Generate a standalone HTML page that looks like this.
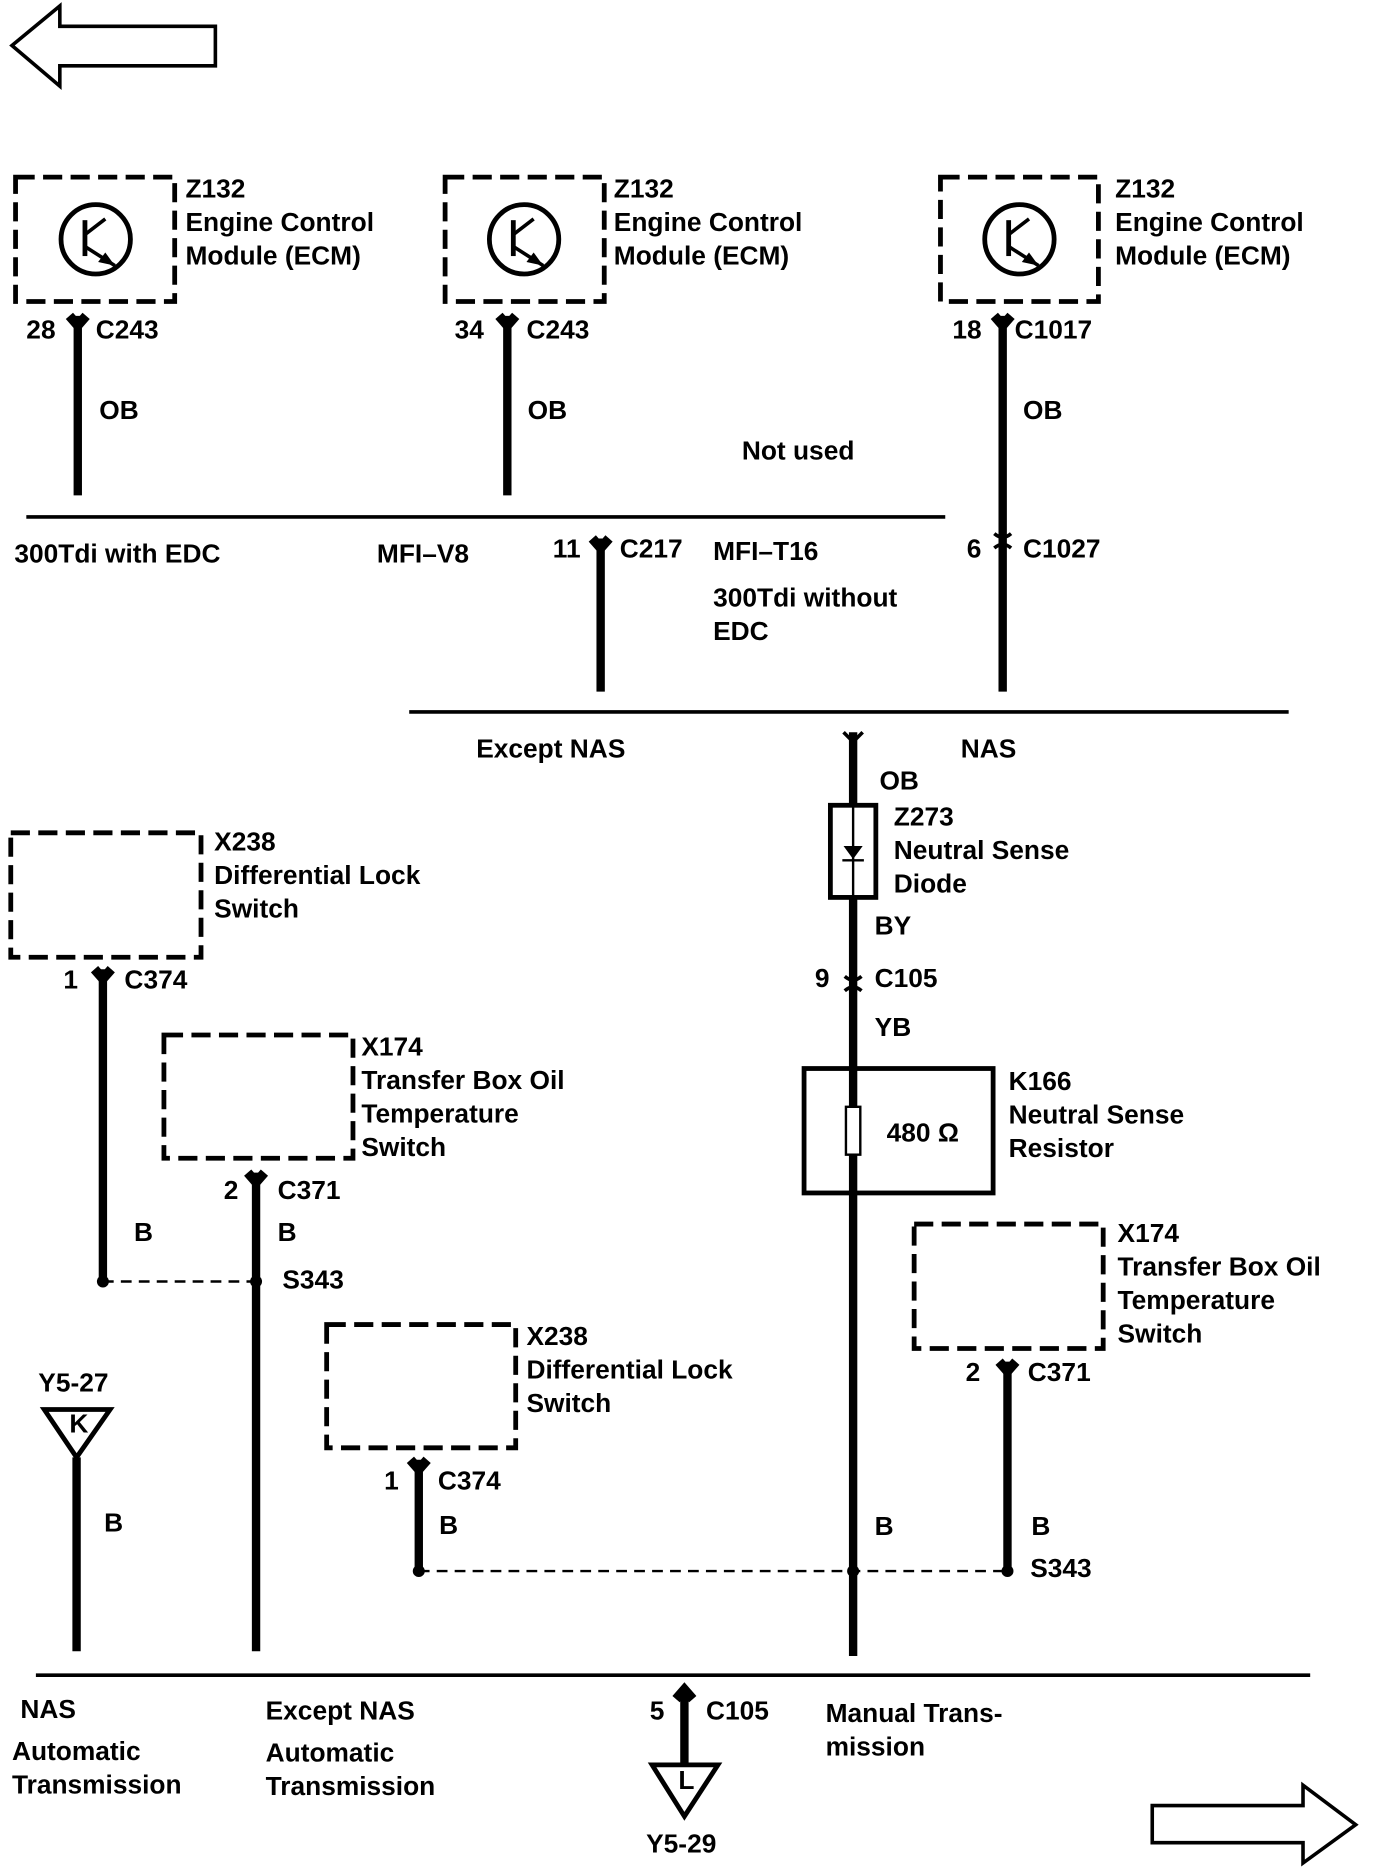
<!DOCTYPE html>
<html><head><meta charset="utf-8"><style>
html,body{margin:0;padding:0;background:#fff;}
svg{display:block;}
text{font-family:"Liberation Sans",sans-serif;font-weight:bold;font-size:22px;fill:#000;}
</style></head><body>
<svg width="1376" height="1872" viewBox="0 0 1150 1564.5" preserveAspectRatio="none" xmlns="http://www.w3.org/2000/svg">
<defs>
<g id="tr"><circle cx="0" cy="0" r="29" fill="none" stroke="#000" stroke-width="4"/>
<line x1="-9" y1="-16" x2="-9" y2="14" stroke="#000" stroke-width="4"/>
<line x1="-9" y1="-4" x2="8" y2="-17" stroke="#000" stroke-width="3"/>
<line x1="-9" y1="6" x2="16" y2="22" stroke="#000" stroke-width="3"/>
<polygon points="16,22 2,19 8,11" fill="#000"/></g>
</defs>
<g fill="none" stroke="#000" stroke-width="3">
<polygon points="10,38 50,5 50,22 180,22 180,55 50,55 50,72"/>
<polygon points="1133,1525 1089,1492 1089,1509 963,1509 963,1540 1089,1540 1089,1557"/>
</g>
<g fill="none" stroke="#000" stroke-width="4" stroke-dasharray="16,7">
<rect x="13" y="148" width="133" height="104"/>
<rect x="372" y="148" width="133" height="104"/>
<rect x="786" y="148" width="132" height="104"/>
<rect x="9" y="696" width="159" height="104"/>
<rect x="137" y="865" width="158" height="103"/>
<rect x="273" y="1107" width="158" height="103"/>
<rect x="764" y="1023" width="158" height="104"/>
</g>
<use href="#tr" x="80" y="200"/><use href="#tr" x="438" y="200"/><use href="#tr" x="852" y="200"/>
<g stroke="#000" stroke-width="7" fill="none">
<line x1="65" y1="266" x2="65" y2="414"/>
<line x1="424" y1="266" x2="424" y2="414"/>
<line x1="838" y1="266" x2="838" y2="578"/>
<line x1="502" y1="452" x2="502" y2="578"/>
<line x1="713" y1="612" x2="713" y2="1384"/>
<line x1="86" y1="812" x2="86" y2="1070"/>
<line x1="214" y1="982" x2="214" y2="1380"/>
<line x1="64" y1="1218" x2="64" y2="1380"/>
<line x1="350" y1="1222" x2="350" y2="1313"/>
<line x1="842" y1="1140" x2="842" y2="1313"/>
<line x1="572" y1="1418" x2="572" y2="1476"/>
</g>
<g stroke="#000" stroke-width="8" fill="#000">
<path d="M58,264 L65,272 L72,264" /><path d="M417,264 L424,272 L431,264"/><path d="M831,264 L838,272 L845,264"/>
<path d="M495,450 L502,458 L509,450"/><path d="M79,810 L86,818 L93,810"/><path d="M207,980 L214,988 L221,980"/>
<path d="M343,1220 L350,1228 L357,1220"/><path d="M835,1138 L842,1146 L849,1138"/><path d="M565,1420 L572,1412 L579,1420"/>
</g>
<g stroke="#000" stroke-width="3" fill="none">
<line x1="22" y1="432" x2="790" y2="432"/>
<line x1="342" y1="595" x2="1077" y2="595"/>
<line x1="30" y1="1400" x2="1095" y2="1400"/>
<path d="M831,446 Q838,452 845,446 M831,458 Q838,452 845,458"/>
<path d="M706,816 Q713,822 720,816 M706,828 Q713,822 720,828"/>
<path d="M705,612 L713,620 L721,612"/>
</g>
<rect x="694" y="673" width="38" height="77" fill="#fff" stroke="#000" stroke-width="4"/>
<line x1="713" y1="673" x2="713" y2="750" stroke="#000" stroke-width="2"/>
<polygon points="705,707 721,707 713,718" fill="#000"/><line x1="704" y1="719" x2="722" y2="719" stroke="#000" stroke-width="2"/>
<rect x="672" y="893" width="158" height="104" fill="none" stroke="#000" stroke-width="4"/>
<rect x="707" y="925" width="12" height="40" fill="#fff" stroke="#000" stroke-width="2"/>
<g stroke="#000" stroke-width="2" stroke-dasharray="9,6" fill="none">
<line x1="86" y1="1071" x2="214" y2="1071"/>
<line x1="350" y1="1313" x2="842" y2="1313"/>
</g>
<g fill="#000"><circle cx="86" cy="1071" r="5"/><circle cx="214" cy="1071" r="5"/><circle cx="350" cy="1313" r="5"/><circle cx="713" cy="1313" r="5"/><circle cx="842" cy="1313" r="5"/></g>
<g fill="#fff" stroke="#000" stroke-width="4">
<polygon points="37,1178 92,1178 64,1218"/>
<polygon points="545,1475 600,1475 572,1518"/>
</g>
<text x="58" y="1197" font-size="16">K</text><text x="567" y="1495" font-size="16">L</text>
<text x="155" y="165">Z132</text><text x="155" y="193">Engine Control</text><text x="155" y="221">Module (ECM)</text>
<text x="513" y="165">Z132</text><text x="513" y="193">Engine Control</text><text x="513" y="221">Module (ECM)</text>
<text x="932" y="165">Z132</text><text x="932" y="193">Engine Control</text><text x="932" y="221">Module (ECM)</text>
<text x="22" y="283">28</text><text x="80" y="283">C243</text><text x="83" y="350">OB</text>
<text x="380" y="283">34</text><text x="440" y="283">C243</text><text x="441" y="350">OB</text>
<text x="796" y="283">18</text><text x="848" y="283">C1017</text><text x="855" y="350">OB</text>
<text x="620" y="384">Not used</text>
<text x="12" y="470">300Tdi with EDC</text><text x="315" y="470">MFI–V8</text>
<text x="462" y="466">11</text><text x="518" y="466">C217</text><text x="596" y="468">MFI–T16</text>
<text x="596" y="507">300Tdi without</text><text x="596" y="535">EDC</text>
<text x="808" y="466">6</text><text x="855" y="466">C1027</text>
<text x="398" y="633">Except NAS</text><text x="803" y="633">NAS</text>
<text x="735" y="660">OB</text>
<text x="747" y="690">Z273</text><text x="747" y="718">Neutral Sense</text><text x="747" y="746">Diode</text>
<text x="731" y="781">BY</text><text x="681" y="825">9</text><text x="731" y="825">C105</text><text x="731" y="866">YB</text>
<text x="741" y="954">480 Ω</text>
<text x="843" y="911">K166</text><text x="843" y="939">Neutral Sense</text><text x="843" y="967">Resistor</text>
<text x="179" y="711">X238</text><text x="179" y="739">Differential Lock</text><text x="179" y="767">Switch</text>
<text x="53" y="826">1</text><text x="104" y="826">C374</text><text x="112" y="1037">B</text>
<text x="302" y="882">X174</text><text x="302" y="910">Transfer Box Oil</text><text x="302" y="938">Temperature</text><text x="302" y="966">Switch</text>
<text x="187" y="1002">2</text><text x="232" y="1002">C371</text><text x="232" y="1037">B</text><text x="236" y="1077">S343</text>
<text x="32" y="1163">Y5-27</text><text x="87" y="1280">B</text>
<text x="440" y="1124">X238</text><text x="440" y="1152">Differential Lock</text><text x="440" y="1180">Switch</text>
<text x="321" y="1245">1</text><text x="366" y="1245">C374</text><text x="367" y="1282">B</text>
<text x="934" y="1038">X174</text><text x="934" y="1066">Transfer Box Oil</text><text x="934" y="1094">Temperature</text><text x="934" y="1122">Switch</text>
<text x="807" y="1154">2</text><text x="859" y="1154">C371</text><text x="862" y="1283">B</text><text x="861" y="1318">S343</text>
<text x="731" y="1283">B</text>
<text x="17" y="1436">NAS</text><text x="10" y="1471">Automatic</text><text x="10" y="1499">Transmission</text>
<text x="222" y="1437">Except NAS</text><text x="222" y="1472">Automatic</text><text x="222" y="1500">Transmission</text>
<text x="543" y="1437">5</text><text x="590" y="1437">C105</text>
<text x="690" y="1439">Manual Trans-</text><text x="690" y="1467">mission</text>
<text x="540" y="1548">Y5-29</text>
</svg>
</body></html>
